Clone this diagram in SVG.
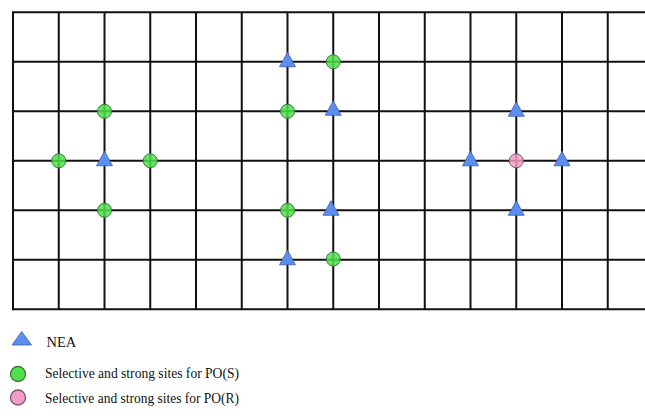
<svg xmlns="http://www.w3.org/2000/svg" width="645" height="416" viewBox="0 0 645 416">
  <style>
    .grid line { stroke: #111; stroke-width: 2; }
    .nea { fill: #5b8ef0; stroke: #3d5fa8; stroke-width: 0.8; }
    .pos { fill: #4fe04a; fill-opacity: 0.85; stroke: #3f7a3c; stroke-width: 1; }
    .por { fill: #f39cc8; fill-opacity: 0.85; stroke: #7a5a6a; stroke-width: 1; }
    .key { stroke-width: 1.3; fill-opacity: 1; }
    .label { font-family: "Liberation Serif", "Times New Roman", serif; font-size: 14.5px; fill: #111; }
  </style>
  <defs>
    <polygon id="tri" points="0,-9.5 8,5 -8,5"/>
  </defs>

  <!-- lattice: columns every 45.75 px, rows every 49.5 px -->
  <g id="grid" class="grid">
    <line x1="13" y1="12.3" x2="645" y2="12.3"/>
    <line x1="13" y1="61.8" x2="645" y2="61.8"/>
    <line x1="13" y1="111.3" x2="645" y2="111.3"/>
    <line x1="13" y1="160.8" x2="645" y2="160.8"/>
    <line x1="13" y1="210.3" x2="645" y2="210.3"/>
    <line x1="13" y1="259.8" x2="645" y2="259.8"/>
    <line x1="13" y1="309.3" x2="645" y2="309.3"/>
    <line x1="13" y1="11.3" x2="13" y2="310.3"/>
    <line x1="58.75" y1="12.3" x2="58.75" y2="309.3"/>
    <line x1="104.5" y1="12.3" x2="104.5" y2="309.3"/>
    <line x1="150.25" y1="12.3" x2="150.25" y2="309.3"/>
    <line x1="196" y1="12.3" x2="196" y2="309.3"/>
    <line x1="241.75" y1="12.3" x2="241.75" y2="309.3"/>
    <line x1="287.5" y1="12.3" x2="287.5" y2="309.3"/>
    <line x1="333.25" y1="12.3" x2="333.25" y2="309.3"/>
    <line x1="379" y1="12.3" x2="379" y2="309.3"/>
    <line x1="424.75" y1="12.3" x2="424.75" y2="309.3"/>
    <line x1="470.5" y1="12.3" x2="470.5" y2="309.3"/>
    <line x1="516.25" y1="12.3" x2="516.25" y2="309.3"/>
    <line x1="562" y1="12.3" x2="562" y2="309.3"/>
    <line x1="607.75" y1="12.3" x2="607.75" y2="309.3"/>
  </g>

  <!-- left cluster -->
  <g id="cluster-left">
    <circle class="pos" cx="104.5" cy="111.3" r="7"/>
    <circle class="pos" cx="58.75" cy="160.8" r="7"/>
    <use href="#tri" class="nea" x="104.5" y="160.8"/>
    <circle class="pos" cx="150.25" cy="160.8" r="7"/>
    <circle class="pos" cx="104.5" cy="210.3" r="7"/>
  </g>

  <!-- middle cluster -->
  <g id="cluster-middle">
    <use href="#tri" class="nea" x="287.5" y="61.8"/>
    <circle class="pos" cx="333.25" cy="61.8" r="7"/>
    <circle class="pos" cx="287.5" cy="111.3" r="7"/>
    <use href="#tri" class="nea" x="333.25" y="110.3"/>
    <circle class="pos" cx="287.5" cy="210.3" r="7"/>
    <use href="#tri" class="nea" x="331" y="210.3"/>
    <use href="#tri" class="nea" x="287.5" y="259.8"/>
    <circle class="pos" cx="333.25" cy="259" r="7"/>
  </g>

  <!-- right cluster -->
  <g id="cluster-right">
    <use href="#tri" class="nea" x="516.25" y="111.3"/>
    <use href="#tri" class="nea" x="470.5" y="160.8"/>
    <circle class="por" cx="516.25" cy="160.8" r="7"/>
    <use href="#tri" class="nea" x="562" y="160.8"/>
    <use href="#tri" class="nea" x="516.25" y="210.3"/>
  </g>

  <!-- legend -->
  <g id="legend-nea">
    <polygon class="nea" points="21.7,331.5 31.5,345 12,345"/>
    <text class="label" x="46.5" y="346.5">NEA</text>
  </g>
  <g id="legend-pos">
    <circle class="pos key" cx="18" cy="374" r="7.5"/>
    <text class="label" x="45" y="378" textLength="194" lengthAdjust="spacingAndGlyphs">Selective and strong sites for PO(S)</text>
  </g>
  <g id="legend-por">
    <circle class="por key" cx="18" cy="397.5" r="7.5"/>
    <text class="label" x="45" y="403.3" textLength="194" lengthAdjust="spacingAndGlyphs">Selective and strong sites for PO(R)</text>
  </g>
</svg>
